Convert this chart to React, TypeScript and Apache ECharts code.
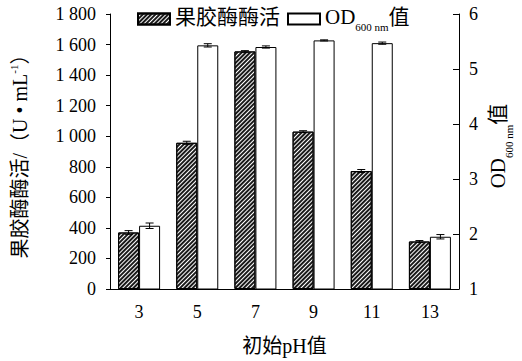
import React, { useEffect, useRef } from "react";
import * as echarts from "echarts";

const categories = ["3", "5", "7", "9", "11", "13"];
const pectinase = [370, 957, 1555, 1030, 772, 311];
const pectinaseErr = [12, 10, 5, 6, 10, 6];
const od = [2.15, 5.43, 5.4, 5.52, 5.47, 1.95];
const odErr = [0.05, 0.03, 0.02, 0.01, 0.02, 0.04];
const leftTicks = { min: 0, max: 1800, interval: 200 };
const rightTicks = { min: 1, max: 6, interval: 1 };

const FONT = "'Liberation Serif', 'Noto Sans CJK SC', serif";

function errorSeries(name: string, vals: number[], errs: number[], yAxisIndex: number, offset: number) {
  return {
    type: "custom",
    name,
    yAxisIndex,
    z: 5,
    silent: true,
    data: vals.map((v, i) => [i, v, errs[i]]),
    encode: { x: 0, y: 1 },
    renderItem: (params: any, api: any) => {
      const x = api.value(0);
      const v = api.value(1);
      const e = api.value(2);
      const top = api.coord([x, v + e]);
      const bot = api.coord([x, v - e]);
      const cx = top[0] + offset;
      const st = { stroke: "#000", lineWidth: 1 };
      return {
        type: "group",
        children: [
          { type: "line", shape: { x1: cx, y1: top[1], x2: cx, y2: bot[1] }, style: st },
          { type: "line", shape: { x1: cx - 4, y1: top[1], x2: cx + 4, y2: top[1] }, style: st },
          { type: "line", shape: { x1: cx - 4, y1: bot[1], x2: cx + 4, y2: bot[1] }, style: st },
        ],
      };
    },
  };
}

export default function App() {
  const ref = useRef<HTMLDivElement>(null);
  useEffect(() => {
    if (!ref.current) return;
    document.body.style.margin = "0";
    const chart = echarts.init(ref.current, undefined, { renderer: "svg" });
    const hatch = {
      symbol: "rect",
      symbolSize: 1,
      color: "#1a1a1a",
      backgroundColor: "#ffffff",
      dashArrayX: [1, 0],
      dashArrayY: [2, 1],
      rotation: -Math.PI / 4,
    };
    chart.setOption({
      animation: false,
      backgroundColor: "#fff",
      textStyle: { fontFamily: FONT, color: "#000" },
      grid: { left: 105, right: 63, top: 14, bottom: 71, containLabel: false },
      legend: {
        data: ["果胶酶酶活", "OD600 nm值"],
        left: 132,
        top: 1,
        icon: "rect",
        itemWidth: 32,
        itemHeight: 11,
        itemGap: 7,
        formatter: (name: string) =>
          name === "OD600 nm值" ? "{a|OD}{b|600 nm}{a|值}" : "{a|" + name + "}",
        textStyle: {
          fontFamily: FONT,
          color: "#000",
          rich: {
            a: { fontSize: 21, fontFamily: FONT, color: "#000", lineHeight: 26, verticalAlign: "top" },
            b: { fontSize: 11, fontFamily: FONT, color: "#000", lineHeight: 26, verticalAlign: "bottom" },
          },
        },
      },
      xAxis: {
        type: "category",
        data: categories,
        boundaryGap: true,
        axisLine: { lineStyle: { color: "#000", width: 1 } },
        axisTick: { alignWithLabel: true, length: 5, lineStyle: { color: "#000" } },
        axisLabel: { fontSize: 18, fontFamily: FONT, color: "#000", margin: 14 },
        name: "初始pH值",
        nameLocation: "middle",
        nameGap: 47,
        nameTextStyle: { fontSize: 20, fontFamily: FONT, color: "#000" },
      },
      yAxis: [
        {
          type: "value",
          ...leftTicks,
          position: "left",
          axisLine: { show: true, lineStyle: { color: "#000", width: 1 } },
          axisTick: { show: true, length: 4, lineStyle: { color: "#000" } },
          splitLine: { show: false },
          axisLabel: {
            fontSize: 18,
            fontFamily: FONT,
            color: "#000",
            margin: 14,
            formatter: (v: number) =>
              v >= 1000 ? Math.floor(v / 1000) + " " + String(v % 1000).padStart(3, "0") : String(v),
          },
          name: "{a|果胶酶酶活/（U • mL}{s|-1}{a|）}",
          nameLocation: "middle",
          nameRotate: 90,
          nameGap: 78,
          nameTextStyle: {
            rich: {
              a: { fontSize: 20, fontFamily: FONT, color: "#000", lineHeight: 24, verticalAlign: "middle" },
              s: { fontSize: 11, fontFamily: FONT, color: "#000", lineHeight: 14, verticalAlign: "top" },
            },
          },
        },
        {
          type: "value",
          ...rightTicks,
          position: "right",
          axisLine: { show: true, lineStyle: { color: "#000", width: 1 } },
          axisTick: { show: true, inside: true, length: 6, lineStyle: { color: "#000" } },
          splitLine: { show: false },
          axisLabel: { fontSize: 18, fontFamily: FONT, color: "#000", margin: 10 },
        },
      ],
      series: [
        {
          type: "bar",
          name: "果胶酶酶活",
          yAxisIndex: 0,
          data: pectinase,
          barWidth: 21,
          barGap: "0%",
          itemStyle: { color: "#ffffff", borderColor: "#000", borderWidth: 1, decal: hatch },
        },
        {
          type: "bar",
          name: "OD600 nm值",
          yAxisIndex: 1,
          data: od,
          barWidth: 21,
          barGap: "0%",
          itemStyle: { color: "#ffffff", borderColor: "#000", borderWidth: 1 },
        },
        errorSeries("errA", pectinase, pectinaseErr, 0, -10.5),
        errorSeries("errB", od, odErr, 1, 10.5),
      ],
      graphic: [
        {
          type: "text",
          x: 501,
          y: 146,
          rotation: Math.PI / 2,
          style: {
            text: "{a|OD}{b|600 nm}{a|值}",
            align: "center",
            verticalAlign: "middle",
            rich: {
              a: { fontSize: 21, fontFamily: FONT, fill: "#000", lineHeight: 27, verticalAlign: "top" },
              b: { fontSize: 11, fontFamily: FONT, fill: "#000", lineHeight: 27, verticalAlign: "bottom" },
            },
          },
        },
      ],
    });
    return () => chart.dispose();
  }, []);
  return <div ref={ref} style={{ width: 522, height: 361 }} />;
}
